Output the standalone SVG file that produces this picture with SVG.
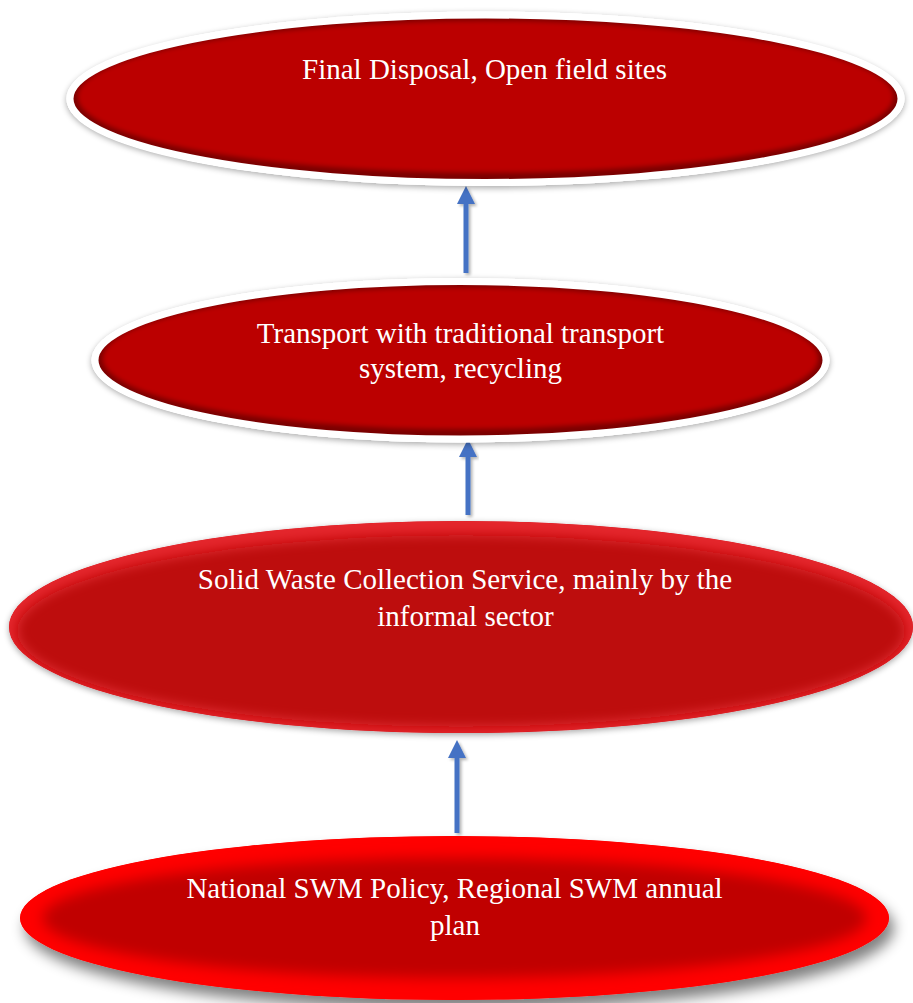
<svg xmlns="http://www.w3.org/2000/svg" width="913" height="1003" viewBox="0 0 913 1003">
<style>
.lbl{font-family:"Liberation Serif","Times New Roman",serif;font-size:29px;fill:#ffffff;text-anchor:middle}
.rim{fill:none;stroke:#ffffff;stroke-width:7}
.conn{stroke:#4472C4;stroke-width:5;fill:none;marker-end:url(#ah)}
</style>
<defs>
<filter id="b2" x="-10%" y="-20%" width="120%" height="140%"><feGaussianBlur stdDeviation="2.5"/></filter>
<filter id="b6" x="-10%" y="-30%" width="120%" height="160%"><feGaussianBlur stdDeviation="6"/></filter>
<filter id="b7" x="-10%" y="-30%" width="120%" height="160%"><feGaussianBlur stdDeviation="7"/></filter>
<filter id="sh1" x="-5%" y="-20%" width="110%" height="150%">
<feGaussianBlur in="SourceAlpha" stdDeviation="3"/><feOffset dy="2"/>
<feComponentTransfer><feFuncA type="linear" slope="0.35"/></feComponentTransfer>
<feMerge><feMergeNode/><feMergeNode in="SourceGraphic"/></feMerge>
</filter>
<filter id="sh4" x="-5%" y="-20%" width="115%" height="160%">
<feGaussianBlur in="SourceAlpha" stdDeviation="7"/><feOffset dx="5" dy="10"/>
<feComponentTransfer><feFuncA type="linear" slope="0.5"/></feComponentTransfer>
<feMerge><feMergeNode/><feMergeNode in="SourceGraphic"/></feMerge>
</filter>
<filter id="shc" x="-100%" y="-10%" width="300%" height="130%">
<feGaussianBlur in="SourceAlpha" stdDeviation="1.5"/><feOffset dx="1.5" dy="1.5"/>
<feComponentTransfer><feFuncA type="linear" slope="0.3"/></feComponentTransfer>
<feMerge><feMergeNode/><feMergeNode in="SourceGraphic"/></feMerge>
</filter>
<marker id="ah" markerUnits="userSpaceOnUse" markerWidth="20" markerHeight="20" viewBox="0 0 20 20" refX="0" refY="10" orient="auto">
<path d="M0,1 L18,10 L0,19 Z" fill="#4472C4"/>
</marker>
<clipPath id="c1"><ellipse cx="485.5" cy="98.75" rx="415.5" ry="83.75"/></clipPath>
<clipPath id="c2"><ellipse cx="460.5" cy="360.25" rx="365.5" ry="78.75"/></clipPath>
<clipPath id="c3"><ellipse cx="461" cy="627" rx="452" ry="106"/></clipPath>
<clipPath id="c4"><ellipse cx="454.5" cy="918" rx="434.5" ry="82"/></clipPath>
</defs>

<g id="connectors" filter="url(#shc)">
<path class="conn" d="M466,273 L466,204"/>
<path class="conn" d="M468,515 L468,457"/>
<path class="conn" d="M457,833 L457,758"/>
</g>

<g id="node-final-disposal">
<ellipse cx="485.5" cy="98.75" rx="419" ry="87.25" fill="#ffffff" filter="url(#sh1)"/>
<g clip-path="url(#c1)">
<ellipse cx="485.5" cy="98.75" rx="415.5" ry="83.75" fill="#7a0000"/>
<ellipse cx="485.5" cy="96.75" rx="408" ry="76" fill="#bb0000" filter="url(#b2)"/>
</g>
<ellipse class="rim" cx="485.5" cy="98.75" rx="415.5" ry="83.75"/>
<text class="lbl" x="484.5" y="79">Final Disposal, Open field sites</text>
</g>

<g id="node-transport">
<ellipse cx="460.5" cy="360.25" rx="369" ry="82.25" fill="#ffffff" filter="url(#sh1)"/>
<g clip-path="url(#c2)">
<ellipse cx="460.5" cy="360.25" rx="365.5" ry="78.75" fill="#7a0000"/>
<ellipse cx="460.5" cy="358.25" rx="358" ry="71" fill="#bb0000" filter="url(#b2)"/>
</g>
<ellipse class="rim" cx="460.5" cy="360.25" rx="365.5" ry="78.75"/>
<text class="lbl" x="460.5" y="343">Transport with traditional transport</text>
<text class="lbl" x="460.5" y="378">system, recycling</text>
</g>

<g id="node-collection">
<ellipse cx="461" cy="627" rx="452" ry="106" fill="#d81820" filter="url(#sh1)"/>
<g clip-path="url(#c3)">
<ellipse cx="461" cy="627" rx="452" ry="106" fill="#e4262c"/>
<ellipse cx="461" cy="631" rx="444" ry="96" fill="#bd0808" filter="url(#b6)"/>
</g>
<text class="lbl" x="465" y="589">Solid Waste Collection Service, mainly by the</text>
<text class="lbl" x="465.5" y="626">informal sector</text>
</g>

<g id="node-policy">
<ellipse cx="454.5" cy="918" rx="434.5" ry="82" fill="#ff0000" filter="url(#sh4)"/>
<g clip-path="url(#c4)">
<ellipse cx="454.5" cy="918" rx="434.5" ry="82" fill="#ff0000"/>
<ellipse cx="454.5" cy="918" rx="412" ry="60" fill="#c00000" filter="url(#b7)"/>
</g>
<text class="lbl" x="454.5" y="898">National SWM Policy, Regional SWM annual</text>
<text class="lbl" x="455" y="935">plan</text>
</g>
</svg>
